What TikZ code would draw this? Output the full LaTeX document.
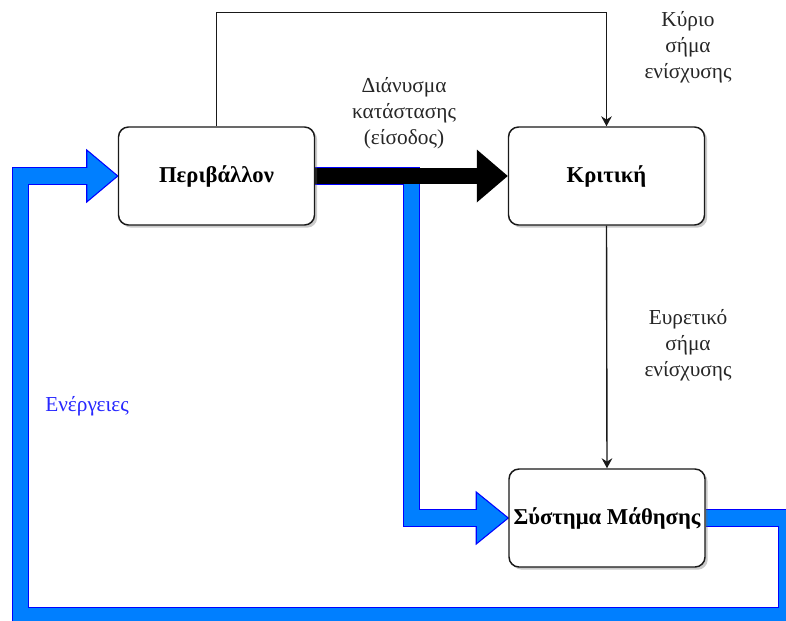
\documentclass[tikz,border=0pt]{standalone}
\usepackage{fontspec}
\setmainfont{Liberation Serif}
\usetikzlibrary{arrows.meta,shadows,calc,backgrounds}
\definecolor{flowblue}{RGB}{0,127,255}
\definecolor{edgeblue}{RGB}{0,0,255}
\definecolor{actblue}{RGB}{40,40,255}
\begin{document}
\begin{tikzpicture}[x=0.75pt,y=-0.75pt,
  block/.style={draw=black!90, line width=1.1pt, fill=white, rounded corners=7.5pt,
    minimum width=147pt, minimum height=73.5pt, inner sep=0pt,
    font=\fontsize{17}{20}\selectfont\bfseries,
    drop shadow={shadow xshift=2pt,shadow yshift=-2pt,opacity=0.35,fill=black!60}},
  signal/.style={draw=black!90, line width=1.05pt, -{Stealth[length=7.5pt,width=8pt,inset=2.5pt]}},
  note/.style={align=center, font=\fontsize{16}{19.5}\selectfont, text=black!85},
  bandedge/.style={line width=13.2pt, draw=edgeblue, line join=miter},
  bandfill/.style={line width=11.6pt, draw=flowblue, line join=miter},
  bandhead/.style={fill=flowblue, draw=edgeblue, line width=0.8pt, line join=miter},
]
\clip (0,0) rectangle (786,621);

% the three blocks
\node[block] (env)  at (216.5,176) {Περιβάλλον};
\node[block] (crit) at (606.5,176) {Κριτική};
\node[block] (sys)  at (607,518)   {Σύστημα Μάθησης};

% thin reinforcement-signal connectors
\draw[signal] (env.north) -- ++(0,-114) -| (crit.north);
\draw[signal] (crit.south) -- (sys.south |- sys.north);

\begin{scope}[on background layer]
  % blue flow: environment -> learning system
  \coordinate (j1) at (411.5,518);
  \coordinate (h1) at ($(sys.west)+(-32,0)$);
  \draw[bandedge] (env.east) -| (j1) -- (h1);
  \filldraw[bandhead] ($(h1)+(0,-26)$) -- (sys.west) -- ($(h1)+(0,26)$) -- cycle;
  \draw[bandfill] (env.east) -| (j1) -- ($(h1)+(1.2,0)$);

  % blue flow: learning system -> environment (actions)
  \coordinate (c1) at (786.5,615.5);
  \coordinate (c2) at (20.5,176);
  \coordinate (h2) at ($(env.west)+(-31,0)$);
  \draw[bandedge] (sys.east) -| (c1) -| (c2) -- (h2);
  \filldraw[bandhead] ($(h2)+(0,-26)$) -- (env.west) -- ($(h2)+(0,26)$) -- cycle;
  \draw[bandfill] (sys.east) -| (c1) -| (c2) -- ($(h2)+(1.2,0)$);

  % black flow: state vector
  \coordinate (h3) at ($(crit.west)+(-31,0)$);
  \draw[line width=12.4pt, black] (env.east) -- (h3);
  \fill[black] ($(h3)+(0,-26.5)$) -- (crit.west) -- ($(h3)+(0,26.5)$) -- cycle;
\end{scope}

% labels
\node[note] (lmain) at (688,47)  {Κύριο\\σήμα\\ενίσχυσης};
\node[note] (lstate) at (404,113) {Διάνυσμα\\κατάστασης\\(είσοδος)};
\node[note] (lheur) at (688,345) {Ευρετικό\\σήμα\\ενίσχυσης};
\node[note, text=actblue] (lact) at (87,406) {Ενέργειες};
\end{tikzpicture}
\end{document}
